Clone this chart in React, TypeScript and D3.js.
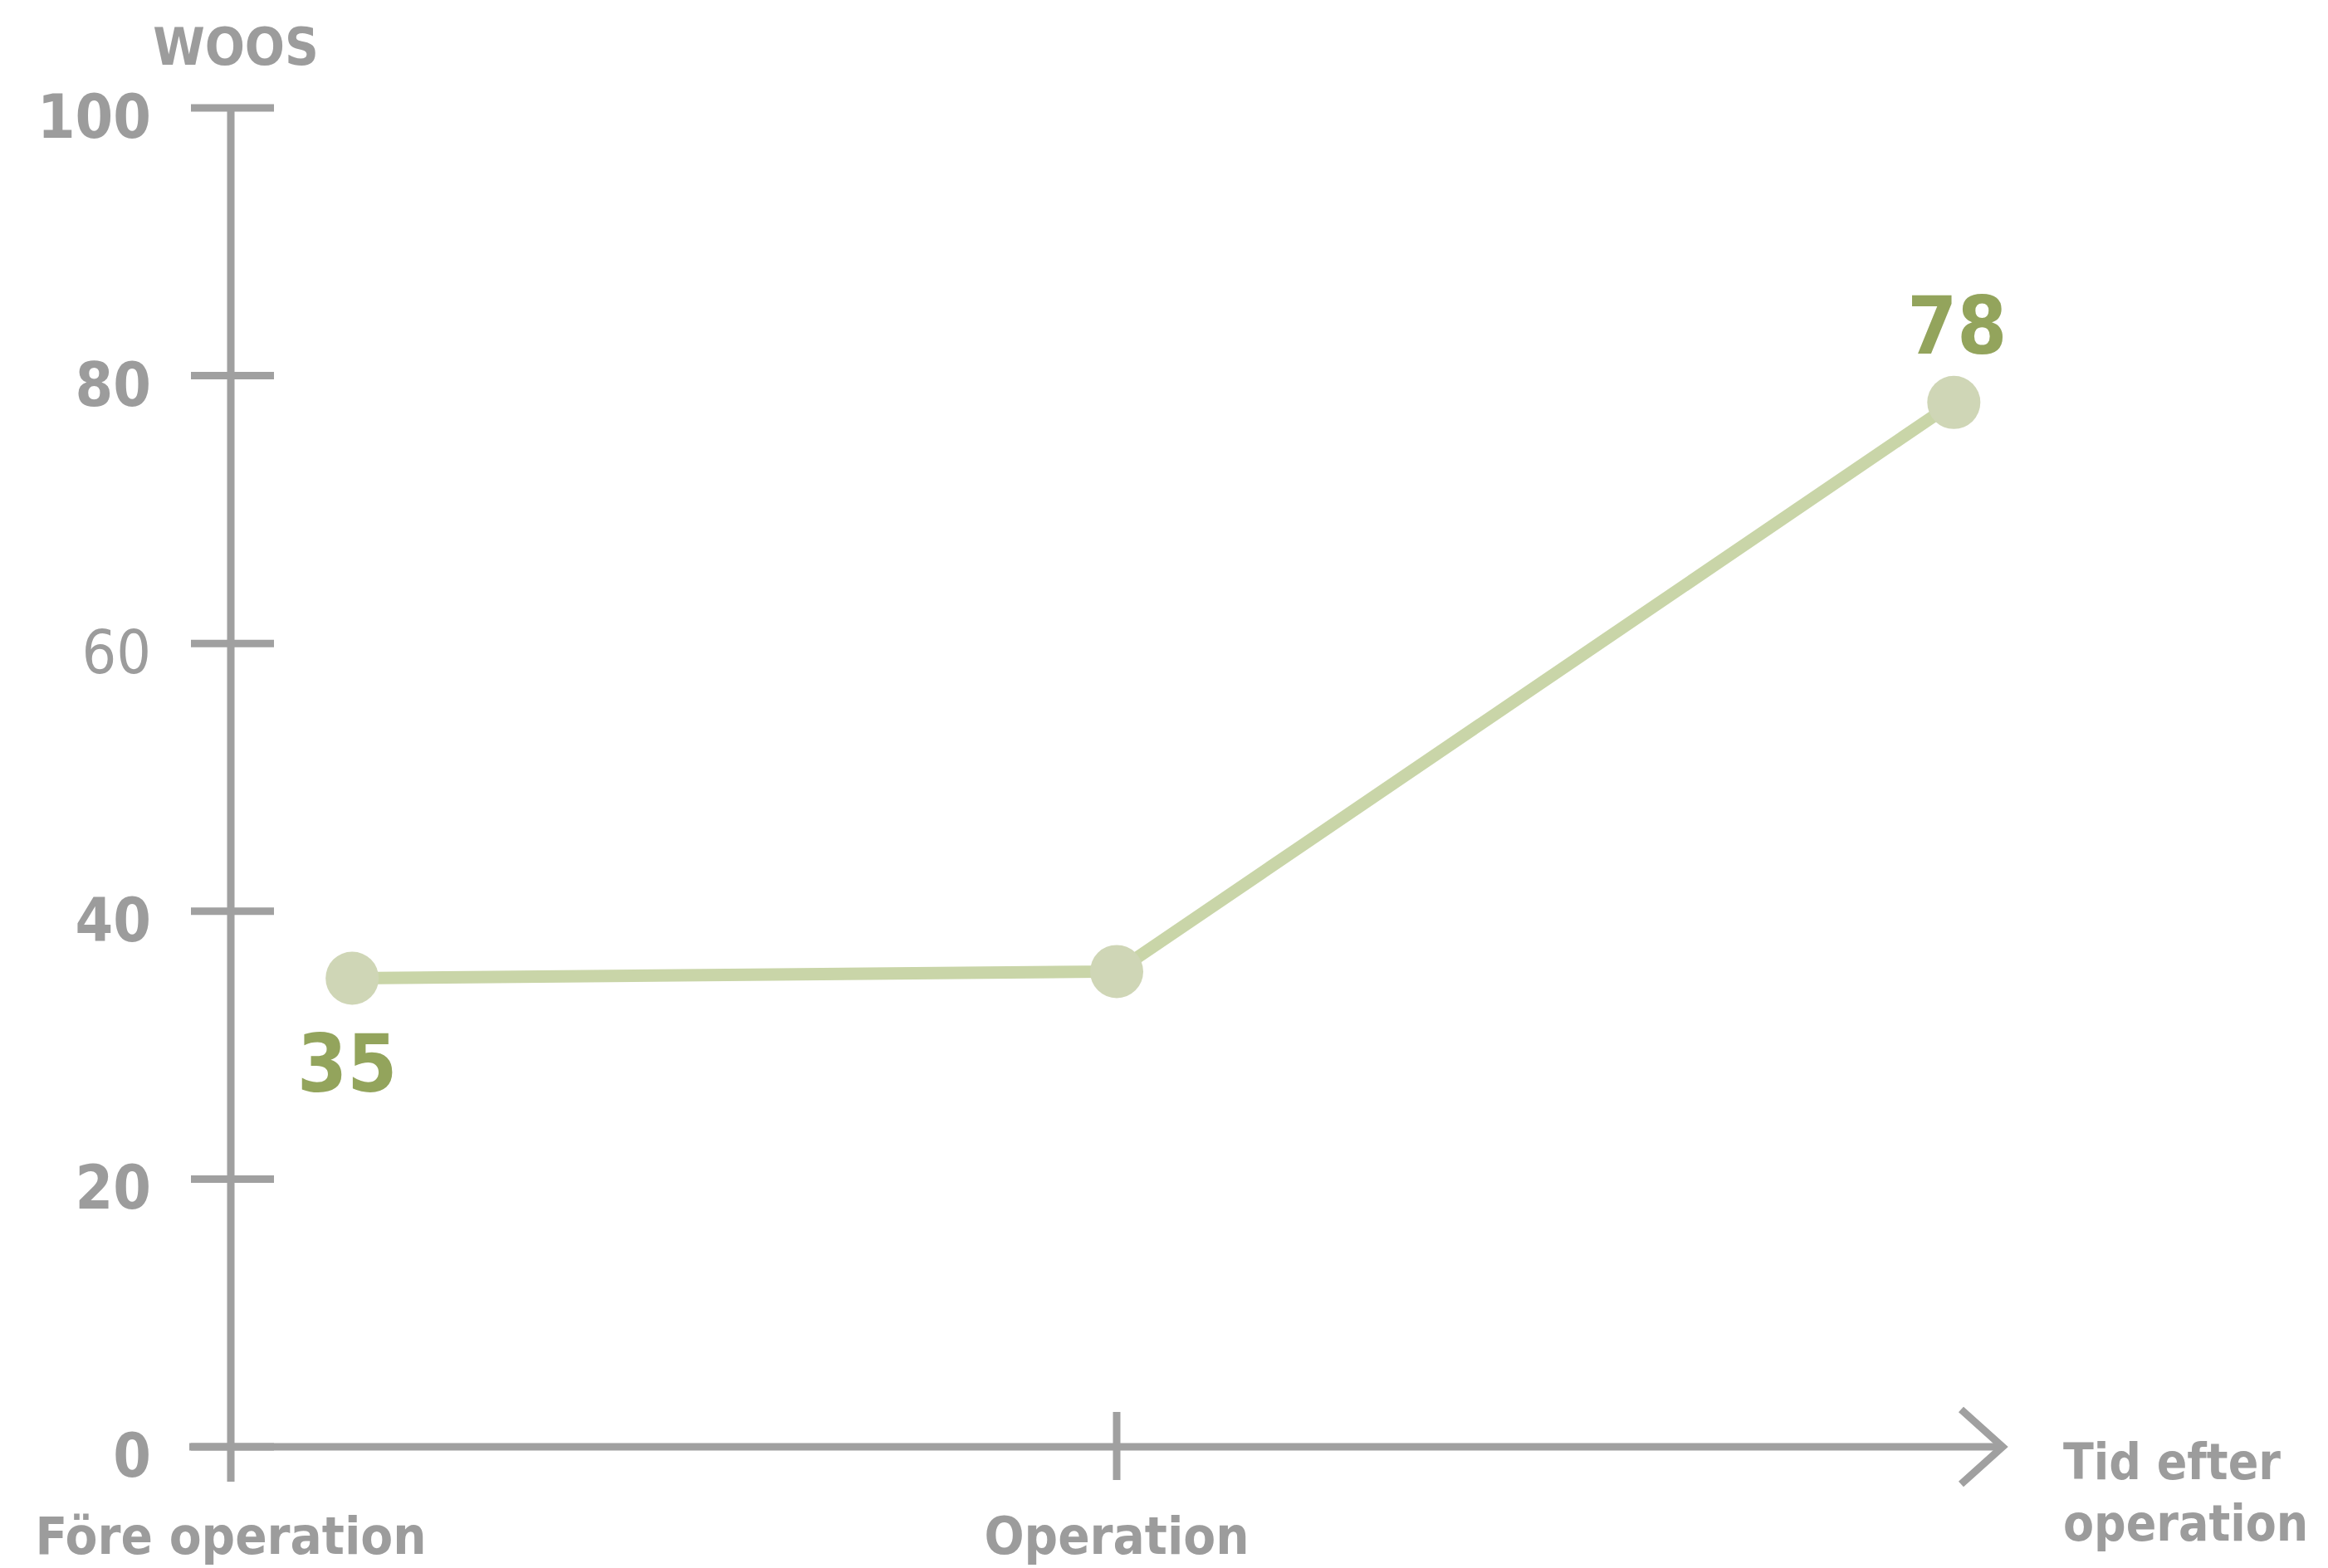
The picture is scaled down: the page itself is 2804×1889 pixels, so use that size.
import React from "react";
import * as d3 from "d3";

const W = 2804;
const H = 1889;

// Data
const yTicks = [0, 20, 40, 60, 80, 100];
const yTickBold = [true, true, true, false, true, true];
const xCategoryLabels = ["Före operation", "Operation"];
const xCategoryTimes = [0, 1];
const endLabelLines = ["Tid efter", "operation"];
const pointTimes = [0.137, 1, 1.945];
const pointValues = [35, 35.5, 78];
const labelledPoints = [
  { index: 0, text: "35", position: "below" },
  { index: 2, text: "78", position: "above" },
];
const yTitle = "WOOS";

const FONT = "'DejaVu Sans Condensed', 'DejaVu Sans', Verdana, sans-serif";
const GRAY = "#a0a0a0";
const TEXT_GRAY = "#9c9c9c";
const LINE_GREEN = "#c9d5a8";
const DOT_GREEN = "#cfd6b6";
const LABEL_GREEN = "#93a45c";

export default function App() {
  const x = d3.scaleLinear().domain([0, 2]).range([278, 2412]);
  const y = d3.scaleLinear().domain([0, 100]).range([1743, 130]);

  const pts = pointTimes.map((t, i) => [x(t), y(pointValues[i])] as [number, number]);
  const linePath = d3.line()(pts) || "";

  const x0 = x(0);
  const y0 = y(0);
  const xEnd = x(2);

  return (
    <svg
      width={W}
      height={H}
      style={{ position: "absolute", left: 0, top: 0, background: "#fff" }}
      fontFamily={FONT}
    >
      <rect x={0} y={0} width={W} height={H} fill="#fff" />
      {/* y axis */}
      <line x1={x0} x2={x0} y1={y(100)} y2={y0 + 42} stroke={GRAY} strokeWidth={9} />
      {yTicks.map((t, i) => (
        <g key={t}>
          <line x1={x0 - 48} x2={x0 + 52} y1={y(t)} y2={y(t)} stroke={GRAY} strokeWidth={9} />
          <text
            x={182}
            y={y(t) + 36}
            textAnchor="end"
            fontSize={73}
            fontWeight={yTickBold[i] ? "bold" : "normal"}
            fill={TEXT_GRAY}
          >
            {t}
          </text>
        </g>
      ))}
      <text x={284} y={78} textAnchor="middle" fontSize={63} fontWeight="bold" fill={TEXT_GRAY}>
        {yTitle}
      </text>
      {/* x axis */}
      <line x1={x0 - 50} x2={xEnd} y1={y0} y2={y0} stroke={GRAY} strokeWidth={9} />
      <polyline
        points={`${xEnd - 50},${y0 - 45} ${xEnd},${y0} ${xEnd - 50},${y0 + 45}`}
        fill="none"
        stroke={GRAY}
        strokeWidth={9}
      />
      {xCategoryTimes.map((t, i) => (
        <g key={i}>
          {t > 0 && (
            <line x1={x(t)} x2={x(t)} y1={y0 - 42} y2={y0 + 40} stroke={GRAY} strokeWidth={9} />
          )}
          <text
            x={x(t)}
            y={1872}
            textAnchor="middle"
            fontSize={63}
            fontWeight="bold"
            fill={TEXT_GRAY}
          >
            {xCategoryLabels[i]}
          </text>
        </g>
      ))}
      {endLabelLines.map((s, i) => (
        <text key={i} x={xEnd + 73} y={1782 + i * 74} fontSize={60} fontWeight="bold" fill={TEXT_GRAY}>
          {s}
        </text>
      ))}
      {/* series */}
      <path d={linePath} fill="none" stroke={LINE_GREEN} strokeWidth={15} />
      {pts.map((p, i) => (
        <circle key={i} cx={p[0]} cy={p[1]} r={32} fill={DOT_GREEN} />
      ))}
      {labelledPoints.map((lp) => {
        const p = pts[lp.index];
        return (
          <text
            key={lp.index}
            x={p[0] - (lp.position === "below" ? 6 : -4)}
            y={lp.position === "below" ? p[1] + 137 : p[1] - 59}
            textAnchor="middle"
            fontSize={96}
            fontWeight="bold"
            fill={LABEL_GREEN}
          >
            {lp.text}
          </text>
        );
      })}
    </svg>
  );
}
